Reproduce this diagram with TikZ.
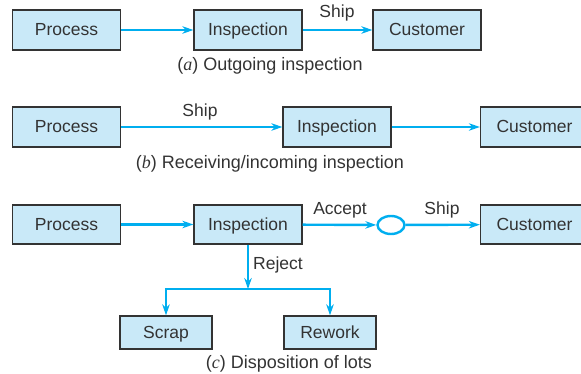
\documentclass[tikz,border=0pt]{standalone}
\usepackage{fontspec}
\setmainfont{Liberation Sans}
\newfontfamily\serifit{Liberation Serif}
\usetikzlibrary{arrows.meta,shapes.geometric}
\definecolor{flowblue}{HTML}{00AEEF}
\definecolor{boxfill}{HTML}{C9E9F8}
\definecolor{ink}{HTML}{333333}
\newcommand{\capletter}[1]{({\serifit\itshape #1})}
\begin{document}
\begin{tikzpicture}[x=1pt,y=-1pt,
  box/.style={draw=ink,fill=boxfill,line width=1.3pt,minimum width=108pt,minimum height=40pt,inner sep=0pt,font=\fontsize{17.5}{20}\selectfont,text=ink,text height=11.5pt,text depth=0pt},
  smallbox/.style={box,minimum width=92pt,minimum height=33pt},
  flow/.style={draw=flowblue,line width=2.4pt,-{Stealth[length=11pt,width=7.5pt]}},
  plain/.style={draw=flowblue,line width=2.4pt},
  lbl/.style={font=\fontsize{17.5}{20}\selectfont,text=ink,inner sep=0pt},
  captext/.style={font=\fontsize{18}{20}\selectfont,text=ink,inner sep=0pt}]
\useasboundingbox (0,0) rectangle (581,374);
% row a
\node[box] (pa) at (66.5,30) {Process};
\node[box] (ia) at (248,30) {Inspection};
\node[box] (ca) at (427,30) {Customer};
\draw[flow] (pa) -- (ia);
\draw[flow] (ia) -- (ca);
\node[lbl] (sa) at (337,13) {Ship};
\node[captext] (capa) at (270,66) {\capletter{a} Outgoing inspection};
% row b
\node[box] (pb) at (66.5,127) {Process};
\node[box] (ib) at (337,127) {Inspection};
\node[box] (cb) at (534.5,127) {Customer};
\draw[flow] (pb) -- (ib);
\draw[flow] (ib) -- (cb);
\node[lbl] (sb) at (200,112) {Ship};
\node[captext] (capb) at (270,164) {\capletter{b} Receiving/incoming inspection};
% row c
\node[box,minimum height=39pt] (pc) at (66.5,224.5) {Process};
\node[box,minimum height=39pt] (ic) at (248,224.5) {Inspection};
\node[box,minimum height=39pt] (cc) at (534.5,224.5) {Customer};
\node[draw=flowblue,line width=2.4pt,ellipse,minimum width=27pt,minimum height=18pt,inner sep=0pt] (acc) at (391,225) {};
\draw[flow] (pc) -- (ic);
\draw[flow] (ic) -- (acc);
\draw[flow] (acc) -- (cc);
\node[lbl] (la) at (340,210) {Accept};
\node[lbl] (lsc) at (442,210) {Ship};
\coordinate (split) at (248,289);
\coordinate (sl) at (166,289);
\coordinate (sr) at (330,289);
\node[smallbox] (scrap) at (166,332.5) {Scrap};
\node[smallbox] (rework) at (330,332.5) {Rework};
\draw[flow] (ic.south) -- (split);
\draw[plain] ([xshift=-1.2pt]sl) -- ([xshift=1.2pt]sr);
\draw[flow] (sl) -- (scrap.north);
\draw[flow] (sr) -- (rework.north);
\node[lbl,anchor=west] (rj) at (253,265) {Reject};
\node[captext] (capc) at (289,364) {\capletter{c} Disposition of lots};
\end{tikzpicture}
\end{document}
